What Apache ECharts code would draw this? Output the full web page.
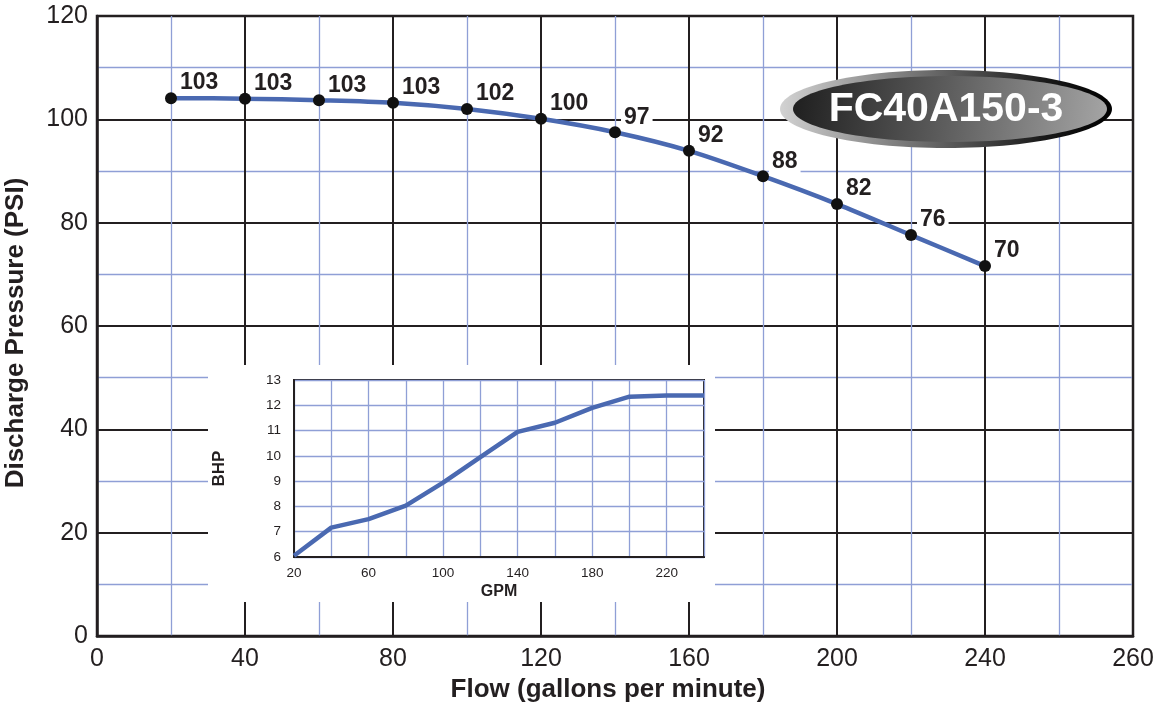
<!DOCTYPE html>
<html>
<head>
<meta charset="utf-8">
<script src="https://cdn.jsdelivr.net/npm/echarts@6/dist/echarts.min.js"></script>
<style>
html,body{margin:0;padding:0;background:#fff;}
#chart{width:1162px;height:702px;}
</style>
</head>
<body>
<div id="chart"></div>
<script>
// ---- data ----
const flow = [20, 40, 60, 80, 100, 120, 140, 160, 180, 200, 220, 240];
const pressure = [104.1, 104.0, 103.7, 103.2, 102.0, 100.1, 97.5, 93.9, 89.0, 83.6, 77.6, 71.6];
const pressureLabels = ['103', '103', '103', '103', '102', '100', '97', '92', '88', '82', '76', '70'];
const gpm = [20, 40, 60, 80, 100, 120, 140, 160, 180, 200, 220, 240];
const bhp = [6.05, 7.16, 7.5, 8.03, 8.94, 9.95, 10.95, 11.31, 11.9, 12.34, 12.39, 12.39];
const xTickLabels = ['0', '40', '80', '120', '160', '200', '240', '260'];
const insetXTickLabels = ['20', '60', '100', '140', '180', '220'];
const modelName = 'FC40A150-3';

const FONT = '"Liberation Sans", Arial, Helvetica, sans-serif';
const BLACK = '#231f20';
const BLUE_GRID = '#8f9fd6';
const LINE = '#4a69b1';

const chart = echarts.init(document.getElementById('chart'), null, {renderer: 'canvas'});

const option = {
  backgroundColor: '#fff',
  animation: false,
  grid: [
    {left: 97, right: 29, top: 16, bottom: 66, show: true, borderColor: BLACK, borderWidth: 2.5, z: 0, outerBoundsMode: 'none', containLabel: false},
    {left: 294, top: 380, width: 410, height: 177, show: true, borderColor: BLACK, borderWidth: 2, backgroundColor: '#fff', z: 4, outerBoundsMode: 'none', containLabel: false}
  ],
  xAxis: [
    {
      type: 'value', gridIndex: 0, min: 0, max: 280, interval: 40,
      name: 'Flow (gallons per minute)', nameLocation: 'middle', nameGap: 35,
      nameTextStyle: {fontFamily: FONT, fontWeight: 'bold', fontSize: 26, color: BLACK, padding: [0, 14, 0, 0]},
      axisLine: {show: true, lineStyle: {color: BLACK, width: 2.5}},
      axisTick: {show: false},
      axisLabel: {fontFamily: FONT, fontSize: 25, color: BLACK, margin: 11,
        formatter: v => xTickLabels[Math.round(v / 40)] || ''},
      splitLine: {show: true, lineStyle: {color: BLACK, width: 2}},
      minorTick: {show: false, splitNumber: 2},
      minorSplitLine: {show: true, lineStyle: {color: BLUE_GRID, width: 1.3}}
    },
    {
      type: 'value', gridIndex: 1, min: 20, max: 240, interval: 20, z: 5,
      name: 'GPM', nameLocation: 'middle', nameGap: 27,
      nameTextStyle: {fontFamily: FONT, fontWeight: 'bold', fontSize: 16, color: BLACK},
      axisLine: {show: true, lineStyle: {color: BLACK, width: 2}},
      axisTick: {show: false},
      axisLabel: {fontFamily: FONT, fontSize: 13.5, color: BLACK, margin: 9,
        formatter: v => { const i = (v - 20) / 40; return Number.isInteger(i) ? (insetXTickLabels[i] || '') : ''; }},
      splitLine: {show: true, lineStyle: {color: BLUE_GRID, width: 1.3}}
    }
  ],
  yAxis: [
    {
      type: 'value', gridIndex: 0, min: 0, max: 120, interval: 20,
      name: 'Discharge Pressure (PSI)', nameLocation: 'middle', nameGap: 68, nameRotate: 90,
      nameTextStyle: {fontFamily: FONT, fontWeight: 'bold', fontSize: 26, color: BLACK, padding: [0, 14, 0, 0]},
      axisLine: {show: true, lineStyle: {color: BLACK, width: 2.5}},
      axisTick: {show: false},
      axisLabel: {fontFamily: FONT, fontSize: 25, color: BLACK, margin: 9},
      splitLine: {show: true, lineStyle: {color: BLACK, width: 2}},
      minorTick: {show: false, splitNumber: 2},
      minorSplitLine: {show: true, lineStyle: {color: BLUE_GRID, width: 1.3}}
    },
    {
      type: 'value', gridIndex: 1, min: 6, max: 13, interval: 1, z: 5,
      name: 'BHP', nameLocation: 'middle', nameGap: 66, nameRotate: 90,
      nameTextStyle: {fontFamily: FONT, fontWeight: 'bold', fontSize: 17, color: BLACK},
      axisLine: {show: true, lineStyle: {color: BLACK, width: 2}},
      axisTick: {show: false},
      axisLabel: {fontFamily: FONT, fontSize: 13.5, color: BLACK, margin: 13},
      splitLine: {show: true, lineStyle: {color: BLUE_GRID, width: 1.3}}
    }
  ],
  graphic: [
    {type: 'rect', z: 1, silent: true, shape: {x: 208, y: 365, width: 507, height: 237}, style: {fill: '#fff'}},
    {
      type: 'group', z: 20, children: [
        {type: 'ellipse', z: 20, shape: {cx: 946, cy: 109, rx: 166, ry: 39},
          style: {fill: new echarts.graphic.LinearGradient(0, 0, 1, 0.3, [
            {offset: 0, color: '#d4d4d4'}, {offset: 0.45, color: '#6a6a6a'}, {offset: 0.8, color: '#1a1a1a'}, {offset: 1, color: '#000'}])}},
        {type: 'ellipse', z: 21, shape: {cx: 950, cy: 109, rx: 157, ry: 33},
          style: {fill: new echarts.graphic.LinearGradient(0, 0, 1, 0.6, [
            {offset: 0, color: '#1e1e1e'}, {offset: 0.5, color: '#5e5e5e'}, {offset: 1, color: '#a4a4a4'}])}},
        {type: 'text', z: 22, x: 946, y: 110, style: {text: modelName, fill: '#ffffff', fontFamily: FONT, fontWeight: 'bold', fontSize: 41, align: 'center', verticalAlign: 'middle'}}
      ]
    }
  ],
  series: [
    {
      type: 'line', xAxisIndex: 0, yAxisIndex: 0, z: 3,
      data: flow.map((x, i) => [x, pressure[i]]),
      smooth: 0.3,
      symbol: 'circle', symbolSize: 12,
      itemStyle: {color: '#111'},
      lineStyle: {color: LINE, width: 4.5},
      label: {
        show: true, position: 'right', distance: 0, offset: [0, -15],
        fontFamily: FONT, fontWeight: 'bold', fontSize: 23, color: BLACK,
        backgroundColor: '#fff', padding: [1, 3],
        formatter: p => pressureLabels[p.dataIndex]
      }
    },
    {
      type: 'line', xAxisIndex: 1, yAxisIndex: 1, z: 6,
      data: gpm.map((x, i) => [x, bhp[i]]),
      symbol: 'none',
      lineStyle: {color: LINE, width: 4.5}
    }
  ]
};
chart.setOption(option);
</script>
</body>
</html>
